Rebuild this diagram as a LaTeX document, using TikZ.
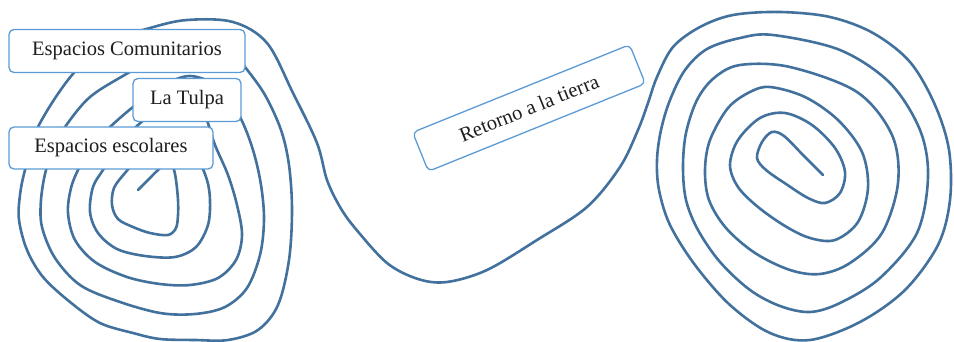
\documentclass[tikz,border=0pt]{standalone}
\usepackage{fontspec}
\setmainfont{Liberation Serif}
\definecolor{spiralblue}{RGB}{65,113,156}
\definecolor{boxline}{RGB}{91,155,213}
\definecolor{txt}{RGB}{30,30,30}
\begin{document}
\begin{tikzpicture}[x=1pt,y=-1pt,
  labelbox/.style={draw=boxline, line width=1.3pt, rounded corners=5pt, fill=white,
    text=txt, font=\fontsize{20.5}{24}\selectfont, inner sep=0pt, anchor=center},
  spiralline/.style={draw=spiralblue, line width=2.6pt, line cap=round, line join=round}]
\useasboundingbox (0,0) rectangle (954,342);
\draw[spiralline] plot[smooth, tension=0.55] coordinates {
 (138,190) (148,180) (158,170) (167,163) (173,167) (176,180) (178,200) (178,215) (176,228) (168,235)
 (150,233) (133,227) (118,219) (112,205) (114,188) (125,173) (140,157) (160,147) (183,148) (198,160)
 (207,180) (210,200) (208,225) (196,247) (175,257) (145,256) (117,249) (98,233) (90,212) (93,187)
 (103,170) (118,147) (137,126) (160,108) (183,100) (203,112) (215,145) (228,175) (237,205) (242,235)
 (236,260) (218,278) (190,285) (160,284) (127,277) (95,262) (75,240) (68,213) (71,188) (79,168)
 (92,146) (110,127) (133,107) (160,87) (190,76) (220,88) (240,117) (253,150) (261,185) (264,220)
 (260,255) (247,288) (225,307) (195,314) (160,313) (117,301) (80,285) (55,258) (42,227) (41,200)
 (46,170) (56,145) (65,127) (90,97) (128,73) (165,52) (200,44) (230,50) (245,67) (265,95)
 (281,130) (289,165) (292,210) (289,260) (278,305) (258,330) (228,340) (195,340) (160,339) (133,333)
 (100,323) (70,302) (43,277) (27,250) (19,220) (20,195) (25,170) (38,127) (72,75) (110,42)
 (150,28) (187,20) (233,22) (267,43) (293,93) (317,143) (327,180) (340,207) (355,228) (387,263)
 (418,279) (447,282) (487,270) (537,240) (587,207) (620,167) (638,130) (648,103) (657,77) (673,47)
 (700,27) (733,15) (780,12) (830,17) (873,33) (910,62) (935,105) (949,150) (950,200) (938,245)
 (905,290) (860,322) (810,340) (770,333) (730,305) (695,265) (670,225) (659,190) (657,160) (661,130)
 (670,100) (685,70) (707,49) (740,38) (773,35) (840,50) (890,83) (920,130) (928,177) (917,233)
 (880,278) (840,303) (810,312) (780,306) (750,290) (720,262) (698,230) (686,200) (683,167) (686,133)
 (697,100) (714,78) (740,65) (790,67) (857,92) (892,135) (898,183) (882,233) (850,263) (820,274)
 (790,270) (755,253) (726,228) (709,200) (705,170) (710,140) (728,108) (750,92) (770,87) (805,97)
 (838,120) (862,152) (868,188) (858,222) (835,240) (810,238) (785,226) (758,207) (738,187) (730,165)
 (738,140) (760,118) (785,113) (812,125) (835,148) (845,172) (840,193) (825,203) (808,198) (786,184)
 (766,170) (757,158) (762,142) (772,132) (784,136) (803,155) (823,175)};
\node[labelbox, minimum width=236pt, minimum height=43pt] (com) at (127,51) {Espacios Comunitarios};
\node[labelbox, minimum width=108pt, minimum height=43pt] (tulpa) at (187,100) {La Tulpa};
\node[labelbox, minimum width=204pt, minimum height=42pt] (esc) at (111,148) {Espacios escolares};
\node[labelbox, minimum width=234pt, minimum height=42pt, rotate=22] (ret) at (529,108) {Retorno a la tierra};
\end{tikzpicture}
\end{document}
